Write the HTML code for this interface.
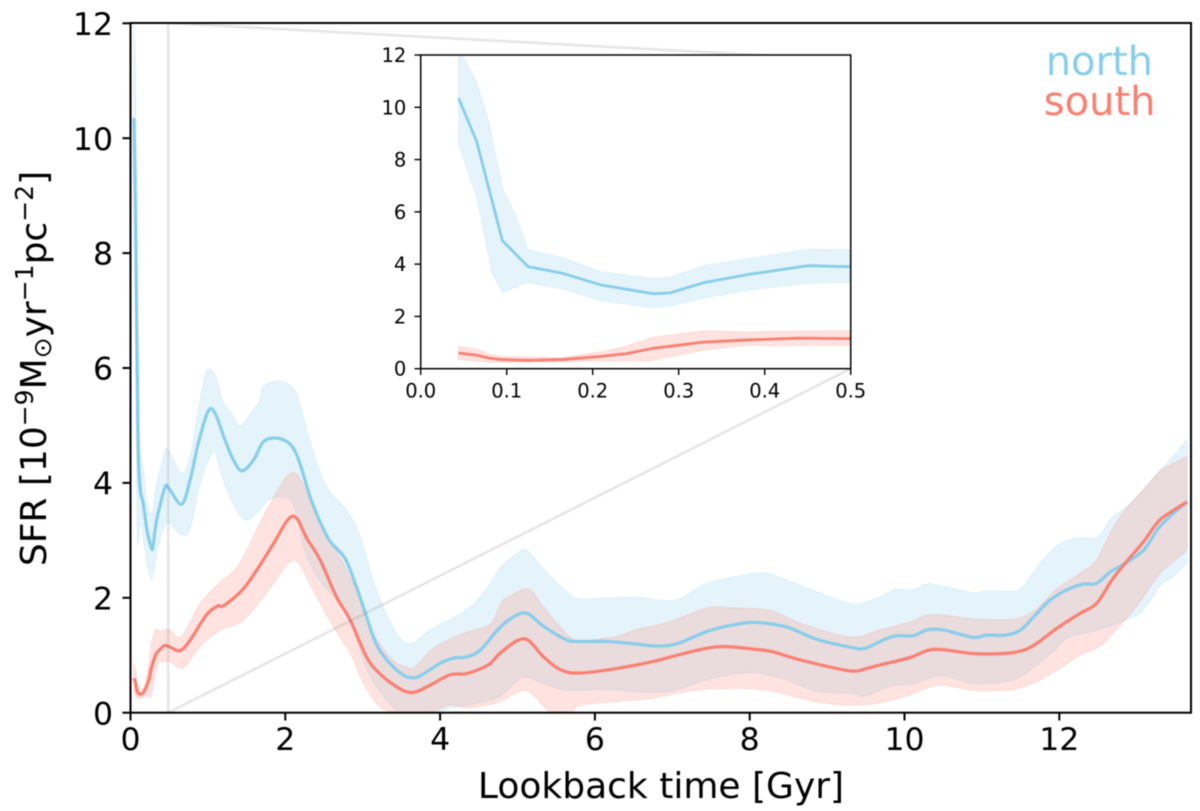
<!DOCTYPE html>
<html lang="en">
<head>
<meta charset="utf-8">
<title>SFR vs lookback time</title>
<style>
html,body{margin:0;padding:0;background:#fff;}
svg{display:block;font-family:"DejaVu Sans","Liberation Sans",sans-serif;filter:blur(0.5px);}
</style>
</head>
<body>
<svg id="chart" xmlns="http://www.w3.org/2000/svg" width="1200" height="811" viewBox="0 0 1200 811">
  <defs>
    <clipPath id="main-clip"><rect x="130.5" y="23" width="1060.5" height="689.7"/></clipPath>
    <clipPath id="inset-clip"><rect x="420.7" y="55" width="430" height="313.7"/></clipPath>
  </defs>
  <g id="main-bands" clip-path="url(#main-clip)"></g>
  <g id="main-lines" clip-path="url(#main-clip)"></g>
  <g id="zoom-guides" stroke="#808080" stroke-opacity="0.2" stroke-width="2.6" fill="none">
    <line x1="168.2" y1="23" x2="168.2" y2="712.7"/>
    <line x1="168.2" y1="23" x2="850.7" y2="60"/>
    <line x1="168.2" y1="712.7" x2="850.7" y2="368.7"/>
  </g>
  <g id="main-axes"></g>
  <text x="661" y="798" font-size="36" text-anchor="middle" fill="#000">Lookback time [Gyr]</text>
  <text transform="translate(46,368.5) rotate(-90)" font-size="36" text-anchor="middle" fill="#000">SFR [10<tspan font-size="25" dy="-13">−9</tspan><tspan dy="13">M</tspan><tspan font-size="25" dy="5">⊙</tspan><tspan dy="-5">yr</tspan><tspan font-size="25" dy="-13">−1</tspan><tspan dy="13">pc</tspan><tspan font-size="25" dy="-13">−2</tspan><tspan dy="13">]</tspan></text>
  <text x="1153" y="75" font-size="40" text-anchor="end" fill="#87ceeb">north</text>
  <text x="1155.5" y="115" font-size="40" text-anchor="end" fill="#fa8072">south</text>
  <rect x="420.7" y="55" width="430" height="313.7" fill="#fff"/>
  <g id="inset-bands" clip-path="url(#inset-clip)"></g>
  <g id="inset-lines" clip-path="url(#inset-clip)"></g>
  <g id="inset-axes"></g>
</svg>
<script>
const mainXTicks = [0, 2, 4, 6, 8, 10, 12];
const mainXTickLabels = ["0", "2", "4", "6", "8", "10", "12"];
const yTicks = [0, 2, 4, 6, 8, 10, 12];
const yTickLabels = ["0", "2", "4", "6", "8", "10", "12"];
const insetXTicks = [0, 0.1, 0.2, 0.3, 0.4, 0.5];
const insetXTickLabels = ["0.0", "0.1", "0.2", "0.3", "0.4", "0.5"];

const northMeanTime = [0.044,0.065,0.095,0.125,0.165,0.21,0.27,0.29,0.33,0.38,0.45,0.5,0.66,0.77,0.876,1.0,1.09,1.22,1.33,1.44,1.59,1.72,1.89,2.04,2.13,2.21,2.32,2.45,2.58,2.77,2.92,3.05,3.18,3.35,3.52,3.63,3.74,4.0,4.17,4.34,4.52,4.77,4.99,5.14,5.33,5.63,5.81,6.15,6.5,6.8,7.06,7.44,7.79,8.09,8.48,8.86,9.3,9.49,9.73,9.9,10.11,10.29,10.5,10.89,11.06,11.3,11.49,11.67,11.88,12.1,12.31,12.48,12.66,12.85,13.09,13.28,13.45,13.65];
const northMeanValues = [10.35,8.7,4.9,3.9,3.65,3.2,2.87,2.9,3.3,3.6,3.94,3.9,3.63,4.05,4.69,5.24,5.22,4.75,4.4,4.21,4.4,4.72,4.78,4.7,4.54,4.25,3.76,3.32,2.98,2.69,2.19,1.67,1.18,0.86,0.66,0.61,0.64,0.86,0.95,0.97,1.09,1.48,1.7,1.72,1.51,1.27,1.24,1.24,1.2,1.16,1.2,1.41,1.53,1.57,1.49,1.28,1.14,1.12,1.27,1.34,1.34,1.44,1.44,1.31,1.35,1.35,1.43,1.67,1.96,2.14,2.24,2.25,2.45,2.6,2.83,3.21,3.44,3.67];

const northUpperTime = [0.044,0.065,0.08,0.095,0.11,0.125,0.165,0.21,0.27,0.29,0.33,0.38,0.45,0.5,0.66,0.77,0.88,0.97,1.03,1.1,1.2,1.31,1.41,1.52,1.67,1.71,1.89,2.06,2.17,2.36,2.55,2.79,2.97,3.18,3.44,3.63,3.87,4.34,4.6,4.77,5.03,5.14,5.33,5.63,5.81,6.15,6.54,6.84,7.08,7.44,7.79,8.09,8.3,8.86,9.3,9.49,9.68,9.9,10.11,10.29,10.5,10.89,11.06,11.3,11.49,11.67,11.88,12.1,12.31,12.5,12.68,12.85,13.09,13.3,13.47,13.65];
const northUpperValues = [12.2,11,9.3,6.9,5.9,4.55,4.25,3.7,3.45,3.5,3.95,4.2,4.57,4.55,4.17,4.46,5.3,5.9,5.97,5.85,5.4,5.21,4.99,5.15,5.44,5.67,5.77,5.7,5.45,4.54,3.9,3.53,3.06,2.13,1.38,1.21,1.44,1.79,2.16,2.51,2.81,2.81,2.51,2.11,1.98,2.0,2.01,1.96,1.98,2.25,2.36,2.43,2.4,2.11,1.9,1.92,2.02,2.15,2.14,2.24,2.2,2.09,2.12,2.11,2.15,2.45,2.8,3.0,3.05,3.06,3.4,3.56,3.9,4.22,4.46,4.75];

const northLowerTime = [0.044,0.065,0.083,0.095,0.125,0.165,0.21,0.27,0.29,0.33,0.38,0.45,0.5,0.66,0.77,0.9,1.05,1.11,1.24,1.45,1.63,1.78,1.93,2.1,2.25,2.41,2.62,2.79,2.92,3.05,3.18,3.4,3.48,3.91,4.13,4.34,4.56,4.77,5.07,5.33,5.63,6.15,6.71,7.06,7.44,7.79,8.09,8.48,8.86,9.3,9.49,9.73,9.9,10.11,10.48,10.89,11.3,11.49,11.71,11.92,12.1,12.31,12.48,12.87,13.09,13.3,13.47,13.65];
const northLowerValues = [8.6,6.6,3.65,2.92,3.3,3.05,2.6,2.33,2.4,2.7,3.0,3.27,3.3,3.09,3.2,3.99,4.51,4.46,3.9,3.38,3.47,3.7,3.75,3.64,2.83,2.37,2.02,1.73,1.26,0.77,0.45,0.08,0,0,0.08,0.13,0.19,0.28,0.61,0.51,0.39,0.4,0.35,0.4,0.57,0.67,0.69,0.57,0.37,0.34,0.29,0.42,0.48,0.5,0.64,0.5,0.54,0.62,0.83,1.06,1.3,1.38,1.43,1.62,1.79,2.2,2.37,2.6];

const southMeanTime = [0.044,0.065,0.08,0.095,0.125,0.165,0.21,0.24,0.27,0.33,0.38,0.44,0.5,0.64,0.77,0.98,1.13,1.2,1.44,1.63,1.85,2.04,2.15,2.28,2.45,2.66,2.84,3.05,3.22,3.44,3.63,3.83,4.13,4.34,4.62,4.77,4.99,5.14,5.33,5.55,5.79,6.24,6.75,7.06,7.44,7.7,8.09,8.3,8.65,9.28,9.51,9.68,10.07,10.29,10.48,10.89,11.28,11.49,11.68,11.97,12.27,12.48,12.68,12.85,13.09,13.28,13.45,13.65];
const southMeanValues = [0.6,0.52,0.4,0.35,0.32,0.35,0.47,0.58,0.78,1.02,1.1,1.17,1.15,1.08,1.26,1.7,1.86,1.86,2.13,2.48,2.95,3.37,3.38,3.03,2.66,2.02,1.61,0.97,0.68,0.45,0.35,0.45,0.66,0.68,0.83,1.03,1.25,1.26,0.98,0.75,0.69,0.76,0.89,1.0,1.12,1.15,1.1,1.06,0.92,0.73,0.77,0.83,0.96,1.08,1.1,1.03,1.03,1.07,1.18,1.47,1.73,1.9,2.31,2.6,2.98,3.33,3.5,3.67];

const southUpperTime = [0.044,0.065,0.08,0.095,0.165,0.21,0.235,0.27,0.33,0.38,0.42,0.5,0.66,0.9,1.16,1.41,1.76,2.02,2.17,2.36,2.53,2.7,2.92,3.09,3.35,3.55,3.68,3.91,4.3,4.64,4.77,4.86,5.14,5.33,5.55,5.76,6.24,6.54,6.93,7.44,7.7,8.26,8.65,9.3,9.68,10.07,10.29,10.5,10.89,11.28,11.49,11.71,11.97,12.27,12.48,12.68,12.85,13.09,13.3,13.47,13.65];
const southUpperValues = [0.85,0.75,0.55,0.47,0.42,0.65,0.82,1.2,1.45,1.4,1.43,1.45,1.33,1.9,2.27,2.6,3.53,4.11,4.12,3.56,3.12,2.72,2.13,1.5,0.97,0.8,0.8,1.12,1.38,1.53,1.86,2.0,2.15,1.85,1.5,1.27,1.32,1.45,1.57,1.82,1.83,1.78,1.56,1.32,1.44,1.58,1.7,1.7,1.63,1.62,1.65,1.81,2.16,2.43,2.66,3.18,3.53,3.88,4.2,4.34,4.46];

const southLowerTime = [0.044,0.065,0.08,0.125,0.165,0.21,0.265,0.33,0.38,0.42,0.5,0.68,0.9,1.16,1.46,1.8,2.04,2.17,2.36,2.62,2.84,3.0,3.18,3.4,3.83,4.13,4.34,4.6,4.77,5.05,5.2,5.42,5.68,5.81,6.24,6.75,7.06,7.44,7.96,8.3,8.86,9.3,9.68,10.07,10.29,10.5,10.89,11.28,11.49,11.71,11.97,12.27,12.52,12.69,12.87,13.09,13.3,13.47,13.65];
const southLowerValues = [0.35,0.3,0.25,0.25,0.27,0.3,0.3,0.72,0.9,0.88,0.9,0.78,1.15,1.44,1.61,2.16,2.6,2.6,2.13,1.5,1.03,0.54,0.16,0,0,0.13,0.08,0.13,0.19,0.38,0.31,0.02,0,0.13,0.19,0.25,0.34,0.41,0.42,0.37,0.19,0.13,0.17,0.31,0.43,0.48,0.39,0.39,0.43,0.54,0.74,1.0,1.15,1.38,1.64,2.02,2.42,2.62,2.83];

const NS = "http://www.w3.org/2000/svg";
const NORTH_COLOR = "#87ceeb";
const SOUTH_COLOR = "#fa8072";

const mainX = function (t) { return 130.5 + 77.4 * t; };
const mainY = function (v) { return 712.7 - 57.45 * v; };
const insetX = function (t) { return 420.7 + 860 * t; };
const insetY = function (v) { return 368.7 - 26.14 * v; };

function toPixels(times, values, xf, yf) {
  const out = [];
  for (let i = 0; i < times.length; i++) {
    out.push([xf(times[i]), yf(values[i])]);
  }
  return out;
}

/* Continues an SVG path through the pixel points: straight segments or a Catmull-Rom curve */
function pathThrough(pts, smooth) {
  let d = "";
  for (let i = 1; i < pts.length; i++) {
    const p1 = pts[i - 1];
    const p2 = pts[i];
    if (!smooth) {
      d += " L" + p2[0].toFixed(2) + " " + p2[1].toFixed(2);
      continue;
    }
    const p0 = pts[i - 2] || p1;
    const p3 = pts[i + 1] || p2;
    const c1x = p1[0] + (p2[0] - p0[0]) / 6;
    const c1y = p1[1] + (p2[1] - p0[1]) / 6;
    const c2x = p2[0] - (p3[0] - p1[0]) / 6;
    const c2y = p2[1] - (p3[1] - p1[1]) / 6;
    d += " C" + c1x.toFixed(2) + " " + c1y.toFixed(2) + " " + c2x.toFixed(2) + " " + c2y.toFixed(2) + " " + p2[0].toFixed(2) + " " + p2[1].toFixed(2);
  }
  return d;
}

function moveTo(p) {
  return "M" + p[0].toFixed(2) + " " + p[1].toFixed(2);
}

function drawBand(parent, name, upT, upV, loT, loV, color, xf, yf, smooth) {
  const up = toPixels(upT, upV, xf, yf);
  const lo = toPixels(loT, loV, xf, yf).reverse();
  const d = moveTo(up[0]) + pathThrough(up, smooth) + " L" + lo[0][0].toFixed(2) + " " + lo[0][1].toFixed(2) + pathThrough(lo, smooth) + " Z";
  const el = document.createElementNS(NS, "path");
  el.setAttribute("d", d);
  el.setAttribute("fill", color);
  el.setAttribute("fill-opacity", "0.22");
  el.setAttribute("stroke", color);
  el.setAttribute("stroke-opacity", "0.2");
  el.setAttribute("stroke-width", "1");
  
  
  parent.appendChild(el);
}

function drawLine(parent, name, times, values, color, xf, yf, width, smooth) {
  const pts = toPixels(times, values, xf, yf);
  const el = document.createElementNS(NS, "path");
  el.setAttribute("d", moveTo(pts[0]) + pathThrough(pts, smooth));
  el.setAttribute("fill", "none");
  el.setAttribute("stroke", color);
  el.setAttribute("stroke-width", width);
  el.setAttribute("stroke-linejoin", "round");
  
  
  parent.appendChild(el);
}

function drawTick(parent, x1, y1, x2, y2, width) {
  const el = document.createElementNS(NS, "line");
  el.setAttribute("x1", x1);
  el.setAttribute("y1", y1);
  el.setAttribute("x2", x2);
  el.setAttribute("y2", y2);
  el.setAttribute("stroke", "#000");
  el.setAttribute("stroke-width", width);
  
  
  parent.appendChild(el);
}

function drawLabel(parent, x, y, text, size, anchor) {
  const el = document.createElementNS(NS, "text");
  el.setAttribute("x", x);
  el.setAttribute("y", y);
  el.setAttribute("font-size", size);
  el.setAttribute("text-anchor", anchor);
  el.setAttribute("fill", "#000");
  el.textContent = text;
  
  
  parent.appendChild(el);
}

function drawFrame(parent, x, y, w, h, width) {
  const el = document.createElementNS(NS, "rect");
  el.setAttribute("x", x);
  el.setAttribute("y", y);
  el.setAttribute("width", w);
  el.setAttribute("height", h);
  el.setAttribute("fill", "none");
  el.setAttribute("stroke", "#000");
  el.setAttribute("stroke-width", width);
  
  
  parent.appendChild(el);
}

function drawSeries(bandGroup, lineGroup, xf, yf, width, smooth) {
  drawBand(bandGroup, "north-band", northUpperTime, northUpperValues, northLowerTime, northLowerValues, NORTH_COLOR, xf, yf, smooth);
  drawBand(bandGroup, "south-band", southUpperTime, southUpperValues, southLowerTime, southLowerValues, SOUTH_COLOR, xf, yf, smooth);
  drawLine(lineGroup, "north-line", northMeanTime, northMeanValues, NORTH_COLOR, xf, yf, width, smooth);
  drawLine(lineGroup, "south-line", southMeanTime, southMeanValues, SOUTH_COLOR, xf, yf, width, smooth);
}

drawSeries(document.getElementById("main-bands"), document.getElementById("main-lines"), mainX, mainY, 3.2, true);
drawSeries(document.getElementById("inset-bands"), document.getElementById("inset-lines"), insetX, insetY, 2.8, false);

const mainAxes = document.getElementById("main-axes");
drawFrame(mainAxes, 130.5, 23, 1060.5, 689.7, 2);
mainXTicks.forEach(function (t, i) {
  drawTick(mainAxes, mainX(t), 712.7, mainX(t), 720.5, 2);
  drawLabel(mainAxes, mainX(t), 750, mainXTickLabels[i], 31.5, "middle");
});
yTicks.forEach(function (v, i) {
  drawTick(mainAxes, 122.5, mainY(v), 130.5, mainY(v), 2);
  drawLabel(mainAxes, 113, mainY(v) + 11.6, yTickLabels[i], 31.5, "end");
});

const insetAxes = document.getElementById("inset-axes");
drawFrame(insetAxes, 420.7, 55, 430, 313.7, 1.5);
insetXTicks.forEach(function (t, i) {
  drawTick(insetAxes, insetX(t), 368.7, insetX(t), 375, 1.4);
  drawLabel(insetAxes, insetX(t), 397.5, insetXTickLabels[i], 19.5, "middle");
});
yTicks.forEach(function (v, i) {
  drawTick(insetAxes, 414.5, insetY(v), 420.7, insetY(v), 1.4);
  drawLabel(insetAxes, 406.3, insetY(v) + 7, yTickLabels[i], 19.5, "end");
});
</script>
</body>
</html>
